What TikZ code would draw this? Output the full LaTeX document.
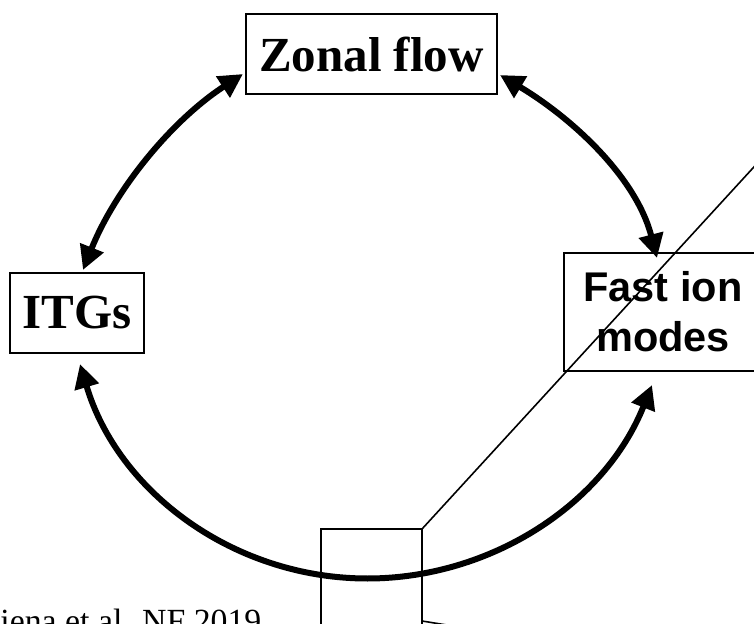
\documentclass[tikz,border=0pt]{standalone}
\usepackage{fontspec}
\setmainfont{Liberation Serif}
\newfontfamily\helv{Liberation Sans}
\usetikzlibrary{arrows.meta}
\begin{document}
\begin{tikzpicture}[x=0.5pt,y=-0.5pt,
  box/.style={draw,line width=1pt,inner sep=0pt,outer sep=0pt,align=center},
  serifbox/.style={box,font=\fontsize{24.5pt}{29pt}\selectfont\bfseries},
  sansbox/.style={box,font=\helv\fontsize{20.75pt}{25pt}\selectfont\bfseries},
  arr/.style={line width=3pt,{Triangle[length=12pt,width=12pt]}-{Triangle[length=12pt,width=12pt]}},
  thin/.style={line width=0.8pt}]
\useasboundingbox (0,0) rectangle (754,624);
\clip (0,0) rectangle (754,624);
\fill[white] (0,0) rectangle (754,624);
\node[serifbox,minimum width=125.5pt,minimum height=40pt] (zonal) at (371.5,54) {Zonal flow};
\node[serifbox,minimum width=67pt,minimum height=40pt] (itg) at (77,313) {ITGs};
\node[sansbox,minimum width=99pt,minimum height=59pt] (fast) at (663,312) {Fast ion\\modes};
\node[box,minimum width=50.5pt,minimum height=49.5pt] (zoombox) at (371.5,578.5) {};
\coordinate (diagend) at (940,-36);
\coordinate (lowend) at (490,632);
\coordinate (lowstart) at (422,621);
\draw[thin] (zoombox.north east) -- (diagend);
\draw[thin] (lowstart) -- (lowend);
\draw[arr] ([shift={(6,-3)}]itg.north) .. controls (115,190) and (171,121) .. ([shift={(-3,-20)}]zonal.south west);
\draw[arr] ([shift={(3,-19)}]zonal.south east) .. controls (572,118) and (636,177) .. ([shift={(-6,5)}]fast.north);
\draw[arr] ([shift={(3,11)}]itg.south) .. controls (118,492) and (234,578.5) .. (367.5,578.5) .. controls (492,578.5) and (605,503) .. ([shift={(-11,14)}]fast.south);
\node[anchor=base west,inner sep=0pt,font=\fontsize{16.9pt}{20pt}\selectfont] (cite) at (0,632) {iena et al. NF 2019};
\end{tikzpicture}
\end{document}
